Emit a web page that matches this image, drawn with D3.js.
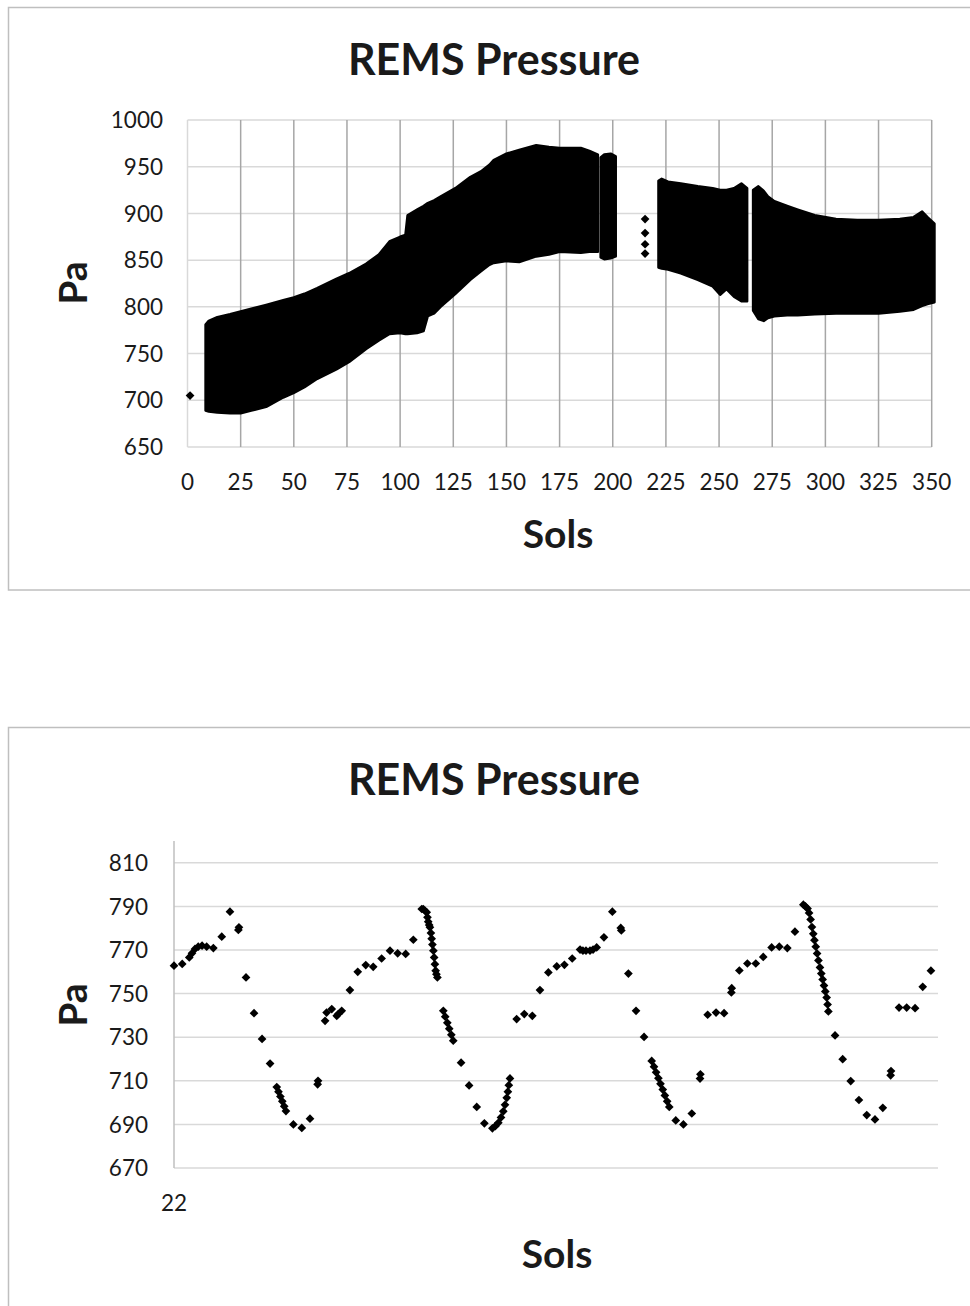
<!DOCTYPE html>
<html>
<head>
<meta charset="utf-8">
<script src="https://cdn.jsdelivr.net/npm/d3@7"></script>
<style>
  body { margin: 0; background: #fff; }
  svg { display: block; font-family: Lato, "Open Sans", sans-serif; }
</style>
</head>
<body>
<svg id="chart" width="970" height="1306"></svg>
<script>
// ---- top chart: whole mission so far (sols 0-350) ----
const solTicks = [0, 25, 50, 75, 100, 125, 150, 175, 200, 225, 250, 275, 300, 325, 350];
const paTicks = [650, 700, 750, 800, 850, 900, 950, 1000];

// the daily spread is so dense it reads as a solid band: keep its edges
const bandPart = ["a","a","a","a","a","a","a","a","a","a","a","a","a","a","a","a","a","a","a","a","a","a","a","a","a","a","a","a","a","a","a","a","a","a","a","a","a",
   "b","b","b","b",
   "c","c","c","c","c","c","c","c","c","c","c",
   "d","d","d","d","d","d","d","d","d","d","d","d","d","d","d","d"];
const bandSol = [8.5, 10, 14, 20, 25, 30, 37, 45, 50, 55, 61, 70, 76, 84, 90, 95, 100, 102.5, 103.5, 108, 111, 113, 116, 119, 126, 133, 138, 142, 144, 150, 156, 164, 170, 175, 185, 189, 193,
   194.3, 196, 199, 201.4,
   221.5, 223, 226, 232, 240, 247, 250.5, 253.5, 257, 260.5, 263.2,
   266, 268.5, 271, 273, 276, 282, 287, 295, 305, 315, 325, 335, 341.5, 345.5, 348, 351.3];
const bandHigh = [781, 785, 789, 792, 795, 798, 802, 807, 810, 814, 820, 830, 836, 846, 856, 870, 875, 877, 898, 904, 908, 911, 914, 918, 927, 939, 945, 952, 957, 964, 968, 973, 971, 970, 970, 967, 963,
   960, 963, 964, 961,
   935, 937, 934, 932, 929, 927, 925, 925, 927, 932, 927,
   925, 929, 924, 918, 913, 908, 904, 898, 894, 893, 893, 894, 896, 902, 896, 889];
const bandLow = [689, 688, 687, 686, 686, 689, 693, 703, 708, 714, 723, 733, 741, 755, 764, 771, 772, 771, 771, 772, 774, 790, 793, 800, 814, 829, 838, 845, 847, 849, 848, 854, 856, 859, 858, 859, 859,
   853, 851, 852, 854,
   842, 841, 840, 836, 829, 822, 813, 819, 811, 806, 806,
   796, 787, 785, 788, 790, 791, 791, 792, 793, 793, 793, 795, 797, 801, 803, 805];

// stray readings outside the band
const loneSol = [1.2, 215.2, 215.2, 215.2, 215.2];
const lonePa = [705, 894, 879, 867, 857];

// ---- bottom chart: close-up of sols 22-26 ----
const detailSolTicks = [22];
const detailPaTicks = [670, 690, 710, 730, 750, 770, 790, 810];
const detailSol = [
   22.000, 22.043, 22.080, 22.094, 22.110, 22.127, 22.147, 22.171, 22.206, 22.250, 22.293, 22.337, 22.340, 22.377, 22.419, 22.461, 22.503,
   22.538, 22.547, 22.557, 22.567, 22.577, 22.586,
   22.625, 22.669, 22.712, 22.752, 22.754,
   22.791, 22.799, 22.826, 22.852, 22.860, 22.878,
   22.921, 22.962, 23.004, 23.043, 23.087, 23.131, 23.171, 23.213, 23.253,
   23.297, 23.305, 23.314, 23.323, 23.327, 23.331, 23.336, 23.340, 23.345, 23.349, 23.353, 23.358, 23.362, 23.366, 23.370, 23.374, 23.379,
   23.410, 23.420, 23.431, 23.441, 23.452, 23.462,
   23.503, 23.545, 23.585, 23.625,
   23.667, 23.682, 23.698, 23.712, 23.724, 23.733, 23.742, 23.748, 23.753, 23.759,
   23.794, 23.834, 23.876, 23.916, 23.960, 24.004, 24.044, 24.085,
   24.126, 24.141, 24.157, 24.178, 24.194, 24.213,
   24.251, 24.295, 24.339, 24.342, 24.379, 24.419, 24.461,
   24.501, 24.513, 24.524, 24.536, 24.547, 24.559, 24.570, 24.582, 24.593,
   24.627, 24.667, 24.711, 24.754, 24.756, 24.794, 24.838, 24.880, 24.918, 24.920, 24.960, 25.002, 25.046, 25.085, 25.129, 25.169, 25.211, 25.251,
   25.295, 25.306, 25.317, 25.325, 25.333, 25.340, 25.347, 25.353, 25.360, 25.367, 25.374, 25.382, 25.389, 25.396, 25.403, 25.410, 25.417, 25.422, 25.426,
   25.461, 25.501, 25.543, 25.586, 25.627, 25.670, 25.711, 25.752, 25.754, 25.796, 25.836, 25.880, 25.920, 25.963];
const detailPa = [
   762.8, 763.6, 766.6, 768.5, 770.5, 771.5, 772.0, 771.5, 770.9, 776.1, 787.6, 779.2, 780.4, 757.4, 741.0, 729.2, 717.9,
   707.1, 705.0, 702.8, 700.6, 698.3, 696.1,
   690.0, 688.4, 692.6, 708.4, 710.0,
   737.5, 741.3, 742.9, 739.8, 740.6, 742.1,
   751.6, 760.0, 763.1, 762.3, 766.1, 769.7, 768.5, 768.2, 774.7,
   788.8, 788.8, 788.0, 787.3, 785.0, 783.0, 781.5, 780.4, 777.8, 775.2, 772.5, 769.7, 766.6, 763.5, 760.5, 758.9, 757.4,
   742.1, 739.4, 736.6, 733.9, 731.1, 728.4,
   718.3, 707.9, 698.0, 690.5,
   688.2, 689.2, 690.7, 693.2, 696.0, 699.0, 702.2, 705.0, 708.0, 711.1,
   738.3, 740.6, 739.8, 751.6, 759.7, 762.5, 763.2, 766.1,
   770.2, 769.7, 769.7, 769.7, 770.2, 771.2,
   775.8, 787.6, 780.1, 779.0, 759.2, 742.1, 730.1,
   719.1, 716.5, 713.9, 711.2, 708.6, 706.0, 703.3, 700.6, 698.0,
   691.8, 690.0, 695.0, 711.0, 713.0, 740.3, 741.3, 741.0, 750.5, 752.5, 760.6, 763.8, 763.8, 766.8, 771.2, 771.5, 770.9, 778.4,
   790.8, 790.0, 789.0, 787.0, 784.0, 780.5, 777.4, 774.5, 771.5, 768.4, 765.2, 762.0, 759.2, 756.5, 753.7, 751.0, 748.2, 745.0, 741.8,
   730.8, 719.9, 709.9, 701.2, 694.3, 692.3, 697.6, 712.5, 714.5, 743.6, 743.6, 743.3, 753.1, 760.5];

const svg = d3.select("#chart");
svg.append("rect").attr("width", 970).attr("height", 1306).attr("fill", "#fff");

// excel style diamond marker
const diamond = {
   draw(ctx, size) {
      const r = Math.sqrt(size / 2);
      ctx.moveTo(0, -r); ctx.lineTo(r, 0); ctx.lineTo(0, r); ctx.lineTo(-r, 0); ctx.closePath();
   }
};
const marker = d3.symbol().type(diamond).size(38);

function frame(y, h) {
   svg.append("rect")
      .attr("x", 8.5).attr("y", y).attr("width", 1000).attr("height", h)
      .attr("fill", "none").attr("stroke", "#bfbfbf").attr("stroke-width", 1.5);
}

function labels(titleY, cx, paX, paY, solsX, solsY) {
   svg.append("text").attr("x", cx).attr("y", titleY)
      .attr("text-anchor", "middle").attr("font-weight", "bold").attr("font-size", 43)
      .attr("fill", "#1a1a1a").text("REMS Pressure");
   svg.append("text").attr("transform", `translate(${paX},${paY}) rotate(-90)`)
      .attr("text-anchor", "middle").attr("dominant-baseline", "central")
      .attr("font-weight", "bold").attr("font-size", 39).attr("fill", "#1a1a1a").text("Pa");
   svg.append("text").attr("x", solsX).attr("y", solsY)
      .attr("text-anchor", "middle").attr("dominant-baseline", "central")
      .attr("font-weight", "bold").attr("font-size", 39).attr("fill", "#1a1a1a").text("Sols");
}

function overview() {
   const x = d3.scaleLinear().domain([0, 350]).range([187.5, 931.7]);
   const y = d3.scaleLinear().domain([650, 1000]).range([447, 120]);
   frame(7.5, 582.5);
   labels(75, 494, 72, 283, 558, 533);

   const g = svg.append("g");
   g.selectAll(".hgrid").data(paTicks).join("line")
      .attr("x1", x(0)).attr("x2", x(350)).attr("y1", d => y(d)).attr("y2", d => y(d))
      .attr("stroke", "#d9d9d9").attr("stroke-width", 1.5);
   g.selectAll(".vgrid").data(solTicks).join("line")
      .attr("x1", d => x(d)).attr("x2", d => x(d)).attr("y1", y(650)).attr("y2", y(1000))
      .attr("stroke", d => d === 0 ? "#d9d9d9" : "#a6a6a6").attr("stroke-width", 1.5);

   // y ticks
   g.selectAll(".ylab").data(paTicks).join("text")
      .attr("x", 163).attr("y", d => y(d)).attr("dy", "0.36em")
      .attr("text-anchor", "end").attr("font-size", 22.5).attr("fill", "#1a1a1a").text(d => d);
   // x ticks
   g.selectAll(".xlab").data(solTicks).join("text")
      .attr("x", d => x(d)).attr("y", 482).attr("dy", "0.36em")
      .attr("text-anchor", "middle").attr("font-size", 22.5).attr("fill", "#1a1a1a").text(d => d);

   // band, one piece per stretch of data
   const rows = bandSol.map((s, i) => ({ sol: s, hi: bandHigh[i], lo: bandLow[i], part: bandPart[i] }));
   const area = d3.area().x(d => x(d.sol)).y0(d => y(d.lo)).y1(d => y(d.hi));
   d3.groups(rows, d => d.part).forEach(([p, pts]) =>
      g.append("path").attr("d", area(pts))
         .attr("fill", "#000").attr("stroke", "#000").attr("stroke-width", 2.5).attr("stroke-linejoin", "round")
   );
   loneSol.forEach((s, i) =>
      g.append("path").attr("d", marker).attr("transform", `translate(${x(s)},${y(lonePa[i])})`).attr("fill", "#000")
   );
}

function closeUp() {
   const x = d3.scaleLinear().domain([22, 26]).range([174, 938]);
   const y = d3.scaleLinear().domain([670, 820]).range([1168, 841]);
   frame(727.5, 700);
   labels(795, 494, 72, 1005, 557, 1253);

   const g = svg.append("g");
   g.selectAll(".hgrid").data(detailPaTicks).join("line")
      .attr("x1", x(22)).attr("x2", x(26)).attr("y1", d => y(d)).attr("y2", d => y(d))
      .attr("stroke", "#d9d9d9").attr("stroke-width", 1.5);
   g.append("line").attr("x1", x(22)).attr("x2", x(22)).attr("y1", y(820)).attr("y2", y(670))
      .attr("stroke", "#bfbfbf").attr("stroke-width", 1.5);

   g.selectAll(".ylab").data(detailPaTicks).join("text")
      .attr("x", 148).attr("y", d => y(d)).attr("dy", "0.36em")
      .attr("text-anchor", "end").attr("font-size", 22.5).attr("fill", "#1a1a1a").text(d => d);
   g.selectAll(".xlab").data(detailSolTicks).join("text")
      .attr("x", d => x(d)).attr("y", 1203).attr("dy", "0.36em")
      .attr("text-anchor", "middle").attr("font-size", 22.5).attr("fill", "#1a1a1a").text(d => d);

   g.selectAll(".pt").data(detailSol).join("path")
      .attr("d", marker)
      .attr("transform", (d, i) => `translate(${x(d)},${y(detailPa[i])})`)
      .attr("fill", "#000");
}

overview();
closeUp();
</script>
</body>
</html>
